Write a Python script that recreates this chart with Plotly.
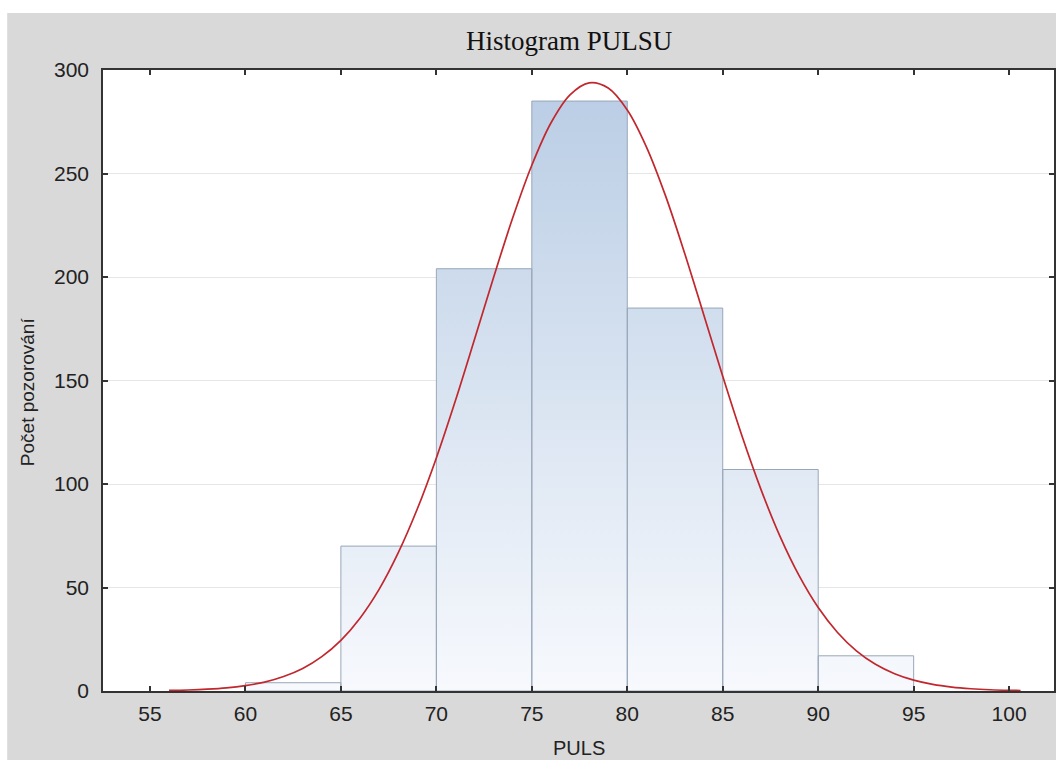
import plotly.graph_objects as go

# ---- data ----
bin_left = [60, 65, 70, 75, 80, 85, 90]
bin_right = [65, 70, 75, 80, 85, 90, 95]
counts = [4, 70, 204, 285, 185, 107, 17]

curve_x = [56, 57, 58, 59, 60, 61, 62, 63, 64, 65, 66, 67, 68, 69, 70, 71, 72, 73,
           74, 75, 76, 77, 78, 79, 80, 81, 82, 83, 84, 85, 86, 87, 88, 89, 90, 91,
           92, 93, 94, 95, 96, 97, 98, 99, 100, 100.6]
curve_y = [0.26, 0.48, 0.87, 1.5, 2.6, 4.3, 7.0, 10.9, 16.6, 24.5, 35.2, 49.1, 66.7,
           87.9, 112.6, 140.3, 169.9, 199.9, 228.6, 254.0, 274.4, 288.0, 293.8, 291.3,
           280.7, 262.9, 239.3, 211.6, 181.9, 152.0, 123.4, 97.4, 74.7, 55.7, 40.3,
           28.4, 19.4, 12.9, 8.35, 5.24, 3.2, 1.9, 1.09, 0.61, 0.33, 0.23]

x_ticks = [55, 60, 65, 70, 75, 80, 85, 90, 95, 100]
y_ticks = [0, 50, 100, 150, 200, 250, 300]

title_text = "Histogram PULSU"
x_title = "PULS"
y_title = "Počet pozorování"

# ---- figure geometry ----
W, H = 1056, 760
L, R, T, B = 103, 0, 70, 69
pw, ph = W - L - R, H - T - B


def px_x(p):
    return (p - L) / pw


def px_y(p):
    return (H - B - p) / ph


# bar polygons built from the data
bx, by = [], []
for l, r, c in zip(bin_left, bin_right, counts):
    bx += [l, l, r, r, l, None]
    by += [0, c, c, 0, 0, None]

fig = go.Figure()
fig.add_trace(go.Scatter(
    x=bx, y=by, mode="lines", fill="toself",
    fillgradient=dict(type="vertical",
                      colorscale=[[0, "#f7f9fd"], [1, "#b8cce4"]],
                      start=0, stop=300),
    line=dict(color="#98a7b8", width=1),
    hoverinfo="skip", showlegend=False,
))
fig.add_trace(go.Scatter(
    x=curve_x, y=curve_y, mode="lines", line_shape="spline",
    line=dict(color="#c1272d", width=1.7), showlegend=False,
))

axis_common = dict(
    showline=True, linecolor="#333333", linewidth=1.5, mirror="ticks",
    ticks="inside", ticklen=5, tickwidth=1.5, tickcolor="#333333",
    tickfont=dict(family="Liberation Sans, Arial", size=21, color="#222222"),
    zeroline=False,
)

fig.update_xaxes(range=[52.54, 102.35], tickvals=x_ticks, showgrid=False,
                 ticklabelstandoff=3, **axis_common)
fig.update_yaxes(range=[0, 300], tickvals=y_ticks, showgrid=True,
                 gridcolor="#e6e6e6", gridwidth=1, ticklabelstandoff=8,
                 **axis_common)

fig.update_layout(
    width=W, height=H,
    margin=dict(l=L, r=R, t=T, b=B),
    paper_bgcolor="#d9d9d9", plot_bgcolor="white",
    showlegend=False,
    shapes=[
        dict(type="rect", xref="paper", yref="paper", layer="below",
             x0=px_x(-5), x1=px_x(W + 5), y0=px_y(13), y1=px_y(-5),
             fillcolor="white", line_width=0),
        dict(type="rect", xref="paper", yref="paper", layer="below",
             x0=px_x(-5), x1=px_x(7), y0=px_y(H + 5), y1=px_y(-5),
             fillcolor="white", line_width=0),
    ],
    annotations=[
        dict(text=title_text, xref="paper", yref="paper", x=px_x(570), y=px_y(41),
             xanchor="center", yanchor="middle", showarrow=False,
             font=dict(family="Liberation Serif, Times New Roman", size=27,
                       color="#111111")),
        dict(text=x_title, xref="paper", yref="paper", x=px_x(580), y=px_y(748),
             xanchor="center", yanchor="middle", showarrow=False,
             font=dict(family="Liberation Sans, Arial", size=20, color="#222222")),
        dict(text=y_title, xref="paper", yref="paper", x=px_x(27), y=px_y(392),
             xanchor="center", yanchor="middle", showarrow=False, textangle=-90,
             font=dict(family="Liberation Sans, Arial", size=19, color="#222222")),
    ],
)

fig.write_html(
    "out.html",
    config={"displayModeBar": False},
    post_script="document.body.style.margin='0';document.body.style.overflow='hidden';",
)
